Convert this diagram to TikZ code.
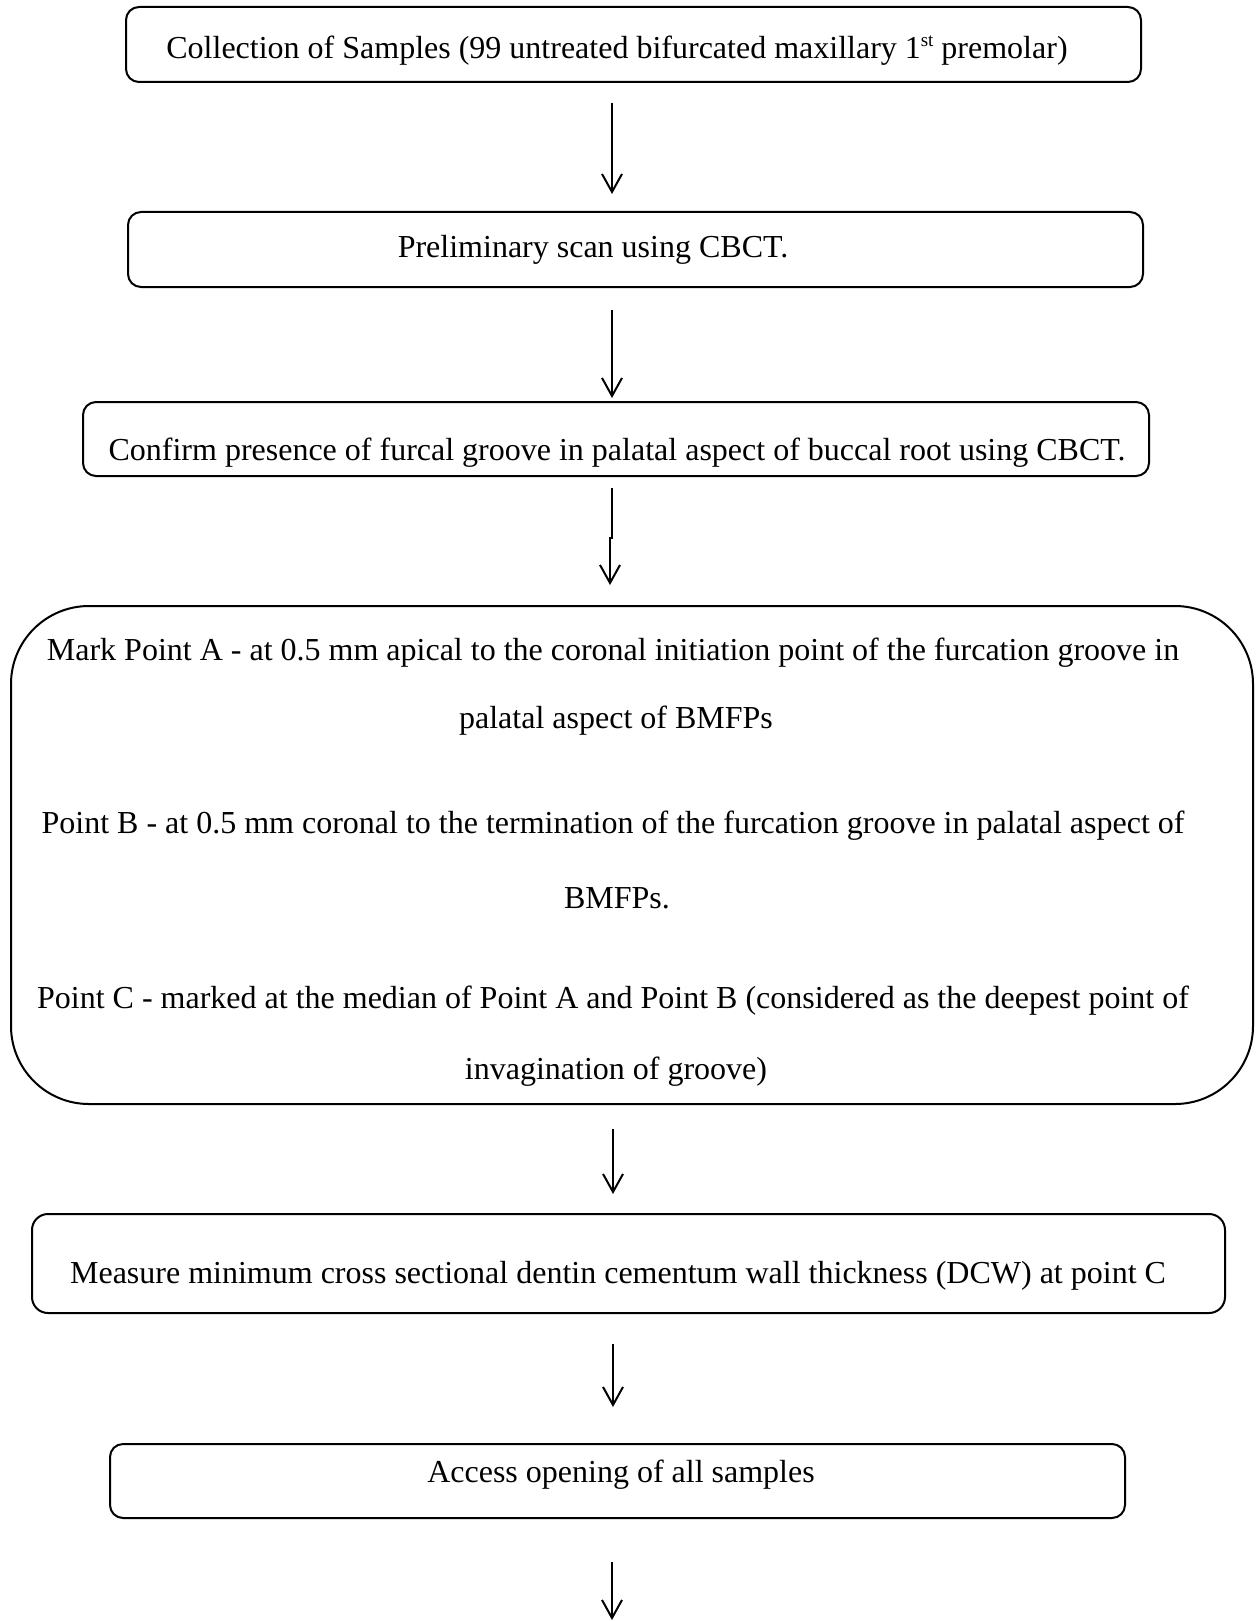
\documentclass[tikz,border=0pt]{standalone}
\usepackage{fontspec}
\setmainfont{Liberation Serif}
\usetikzlibrary{arrows.meta}
\begin{document}
\begin{tikzpicture}[x=1pt,y=-1pt,
  box/.style={draw, line width=2pt, rounded corners=13pt, inner sep=0pt, outer sep=0pt},
  bigbox/.style={draw, line width=2pt, rounded corners=78pt, inner sep=0pt, outer sep=0pt},
  txt/.style={anchor=base, inner sep=0pt, font=\fontsize{32}{38}\selectfont},
  arr/.style={line width=2pt, -{Straight Barb[length=18pt,width=20pt,line width=2pt]}}]
\useasboundingbox (0,0) rectangle (1258,1621);
\fill[white] (0,0) rectangle (1258,1621);
% boxes
\node[box, minimum width=1015pt, minimum height=75pt] (b1) at (633.5,44.5) {};
\node[box, minimum width=1015pt, minimum height=75pt] (b2) at (635.5,249.5) {};
\node[box, minimum width=1066pt, minimum height=74pt] (b3) at (616,439) {};
\node[bigbox, minimum width=1242pt, minimum height=498pt] (b4) at (632,855) {};
\node[box, minimum width=1193pt, minimum height=99pt, rounded corners=16pt] (b5) at (628.5,1263.5) {};
\node[box, minimum width=1015pt, minimum height=74pt] (b6) at (617.5,1481) {};
% texts
\node[txt] (t1) at (617,59) {Collection of Samples (99 untreated bifurcated maxillary 1\raisebox{12pt}{\fontsize{19}{20}\selectfont st} premolar)};
\node[txt] (t2) at (593,258) {Preliminary scan using CBCT.};
\node[txt] (t3) at (617,460) {Confirm presence of furcal groove in palatal aspect of buccal root using CBCT.};
\node[txt] (t4a) at (613,660) {Mark Point A - at 0.5 mm apical to the coronal initiation point of the furcation groove in};
\node[txt] (t4b) at (616,728.5) {palatal aspect of BMFPs};
\node[txt] (t4c) at (613,833) {Point B - at 0.5 mm coronal to the termination of the furcation groove in palatal aspect of};
\node[txt] (t4d) at (617,908) {BMFPs.};
\node[txt] (t4e) at (613,1008) {Point C - marked at the median of Point A and Point B (considered as the deepest point of};
\node[txt] (t4f) at (616,1079) {invagination of groove)};
\node[txt] (t5) at (618,1283) {Measure minimum cross sectional dentin cementum wall thickness (DCW) at point C};
\node[txt] (t6) at (621,1482) {Access opening of all samples};
% connector helpers
\coordinate (ax) at (612,0);
\coordinate (bx) at (613,0);
\coordinate (j1) at (612,538);
\coordinate (j2) at (610,538);
\coordinate (endp) at (612,1620);
% arrows
\draw[arr, shorten <=21pt, shorten >=18pt] (b1.south -| ax) -- (b2.north -| ax);
\draw[arr, shorten <=23pt, shorten >=4pt] (b2.south -| ax) -- (b3.north -| ax);
\draw[arr, shorten <=12pt, shorten >=21pt] (b3.south -| j1) -- (j1) -- (j2) -- (b4.north -| j2);
\draw[arr, shorten <=25pt, shorten >=20pt] (b4.south -| bx) -- (b5.north -| bx);
\draw[arr, shorten <=31pt, shorten >=37pt] (b5.south -| bx) -- (b6.north -| bx);
\draw[arr, shorten <=44pt] (b6.south -| endp) -- (endp);
\end{tikzpicture}
\end{document}
